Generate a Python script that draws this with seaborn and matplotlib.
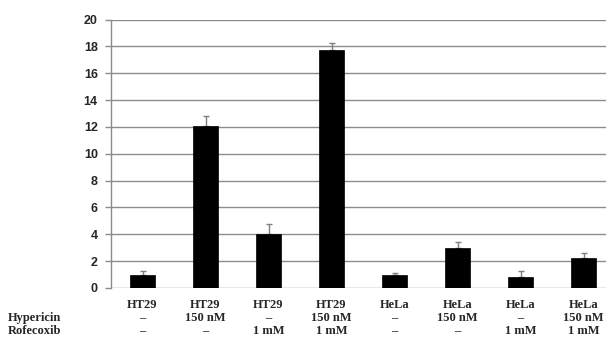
import matplotlib
matplotlib.use("Agg")
import matplotlib.pyplot as plt
import seaborn as sns
import pandas as pd

cell_lines = ["HT29", "HT29", "HT29", "HT29", "HeLa", "HeLa", "HeLa", "HeLa"]
hypericin = ["–", "150 nM", "–", "150 nM", "–", "150 nM", "–", "150 nM"]
rofecoxib = ["–", "–", "1 mM", "1 mM", "–", "–", "1 mM", "1 mM"]
values = [1.0, 12.1, 4.0, 17.75, 1.0, 3.0, 0.85, 2.2]
errors = [0.25, 0.7, 0.75, 0.5, 0.15, 0.45, 0.4, 0.37]
yticks = [0, 2, 4, 6, 8, 10, 12, 14, 16, 18, 20]

df = pd.DataFrame({
    "group": [f"g{i}" for i in range(len(values))],
    "value": values,
})

sns.set_style("white")
plt.rcParams["font.family"] = ["Liberation Sans", "DejaVu Sans"]

fig = plt.figure(figsize=(6.06, 3.56), dpi=100)
# plot area runs past the right edge of the figure, so the last bar sits near the border
ax = fig.add_axes([111 / 606, 1 - 288 / 356, 504 / 606, (288 - 19.5) / 356])

sns.barplot(data=df, x="group", y="value", color="black", width=0.41,
            saturation=1, errorbar=None, ax=ax, zorder=3)
for patch in ax.patches:
    patch.set_edgecolor("black")
    patch.set_linewidth(0.5)

# upper-only error bars
x = list(range(len(values)))
ax.errorbar(x, values, yerr=[[0] * len(errors), errors], fmt="none",
            ecolor="#7f7f7f", elinewidth=1.0, capsize=2.0, capthick=1.0, zorder=2)

ax.set_ylim(0, 20)
ax.set_xlim(-0.5, 7.5)
ax.set_yticks(yticks)
ax.set_yticklabels([str(t) for t in yticks], fontsize=9, fontweight="bold",
                   family=["Liberation Sans", "DejaVu Sans"])
ax.yaxis.grid(True, color="#8c8c8c", linewidth=1.0, zorder=0)
ax.set_axisbelow(True)
ax.tick_params(axis="y", length=4, width=1, color="#8c8c8c", pad=5.5, left=True)
ax.set_xticks([])
ax.set_xlabel("")
ax.set_ylabel("")
for side in ["top", "right", "bottom"]:
    ax.spines[side].set_visible(False)
ax.spines["left"].set_color("#8c8c8c")
ax.spines["left"].set_linewidth(1.0)

# condition table under the bars
serif = ["Liberation Serif", "DejaVu Serif"]
for i in x:
    for yy, labels in zip([305, 318, 331], [cell_lines, hypericin, rofecoxib]):
        xf = (111 + 31.5 + 63 * i) / 606
        fig.text(xf, 1 - yy / 356, labels[i], ha="center", va="center",
                 fontsize=9, fontweight="bold", family=serif)

fig.text(8 / 606, 1 - 318 / 356, "Hypericin", ha="left", va="center",
         fontsize=9, fontweight="bold", family=serif)
fig.text(8 / 606, 1 - 331 / 356, "Rofecoxib", ha="left", va="center",
         fontsize=9, fontweight="bold", family=serif)

fig.savefig("out.png", dpi=100)
